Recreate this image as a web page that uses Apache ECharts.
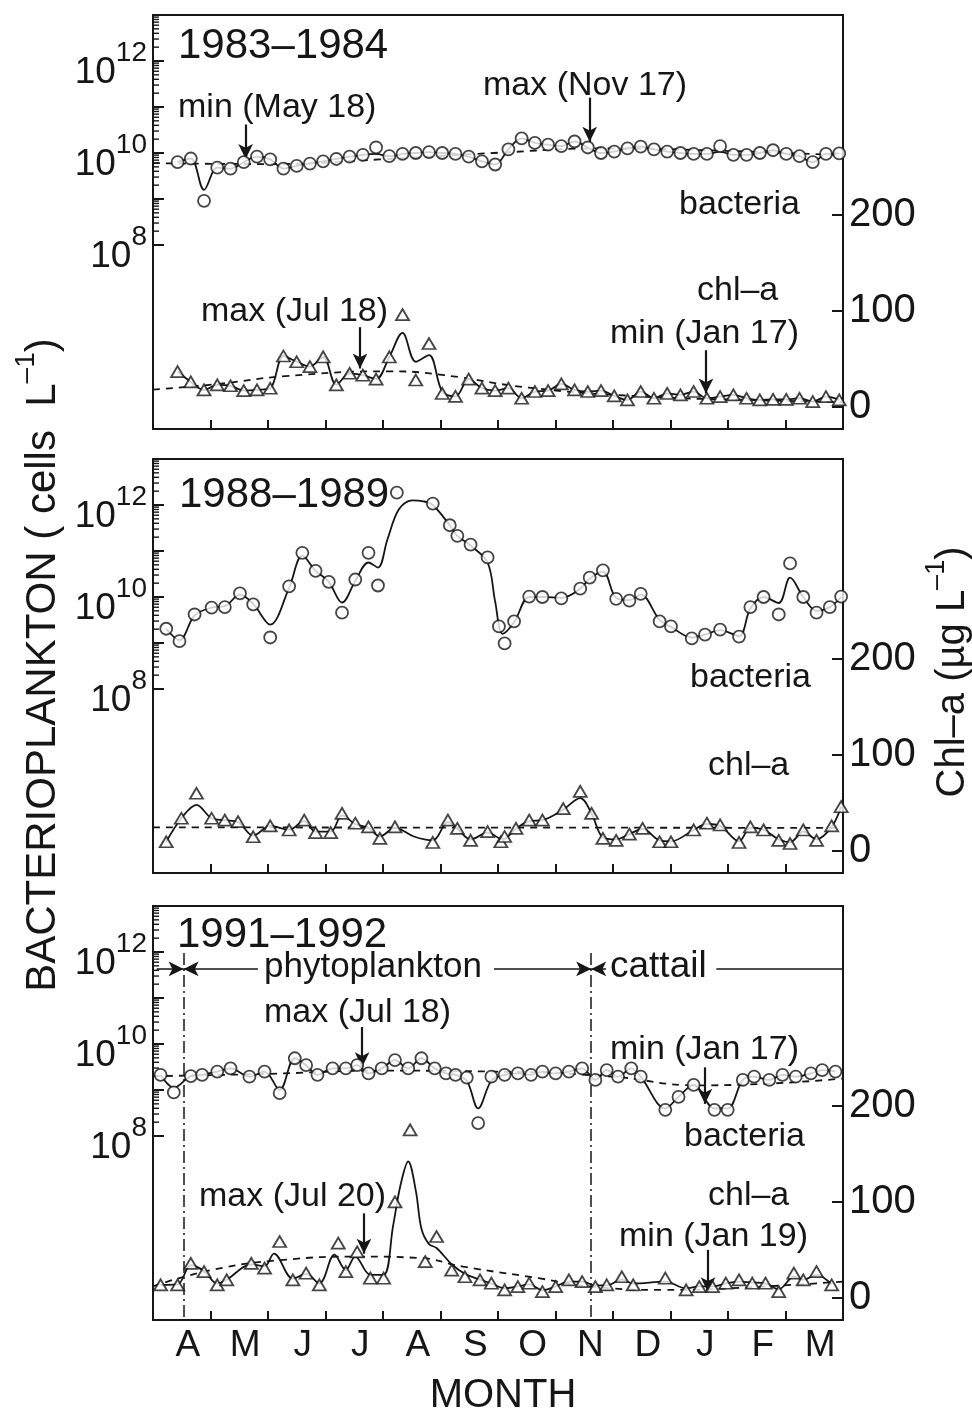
<!DOCTYPE html>
<html><head><meta charset="utf-8">
<script src="https://cdn.jsdelivr.net/npm/echarts/dist/echarts.min.js"></script>
<style>html,body{margin:0;padding:0;background:#fff}#c{width:972px;height:1416px}</style>
</head><body><div id="c"></div>
<script>
// ---------------- data ----------------
const months = ['A','M','J','J','A','S','O','N','D','J','F','M'];
const logLabelExps = [8, 10, 12];
const logTickDecades = [8, 9, 10, 11, 12];
const chlTicks = [0, 100, 200];

// 1983-1984 (day 0 = Apr 1); bacteria as log10(cells/L), chl-a in ug/L
const days83 = [13,20,27,34,41,48,55,62,69,76,83,90,97,104,111,118,125,132,139,146,153,160,167,174,181,188,195,202,209,216,223,230,237,244,251,258,265,272,279,286,293,300,307,314,321,328,335,342,349,356,363];
const bac83 = [9.80,9.88,8.96,9.68,9.66,9.80,9.92,9.86,9.66,9.72,9.77,9.82,9.87,9.92,9.96,10.12,9.93,9.98,10.0,10.02,10.0,9.98,9.92,9.82,9.75,10.08,10.32,10.22,10.18,10.15,10.25,10.12,10.0,10.03,10.1,10.14,10.08,10.03,10.0,9.98,9.98,10.15,9.96,9.96,10.0,10.06,9.98,9.93,9.80,9.98,9.99];
const bac83Fit = [9.80,9.88,9.2,9.68,9.66,9.80,9.92,9.86,9.66,9.72,9.77,9.82,9.87,9.92,9.96,9.98,9.93,9.98,10.0,10.02,10.0,9.98,9.92,9.82,9.75,10.08,10.32,10.22,10.18,10.15,10.25,10.12,10.0,10.03,10.1,10.14,10.08,10.03,10.0,9.98,9.98,10.03,9.96,9.96,10.0,10.06,9.98,9.93,9.80,9.98,9.99];
const bac83TrDays = [0,60,120,180,240,300,365];
const bac83Tr = [9.78,9.76,9.86,10.0,10.1,10.05,9.95];
const chl83 = [36.8,26,17.7,23,22,17,17.7,19.4,53,47,42,52,23,35,33,29,52,96,28,66,14,11,29,19.5,17,19.5,9,16,17,24,17.7,16,17,11.5,7.3,16,9,14,12.5,16,9,10.7,12.5,9,7.3,7.9,7.9,9,5.5,10.7,7.3];
const chl83Fit = [36.8,26,17.7,23,22,17,17.7,19.4,53,47,42,52,23,35,33,29,52,77,47,54,16,11,29,19.5,17,19.5,9,16,17,24,17.7,16,17,11.5,7.3,16,9,14,12.5,16,9,10.7,12.5,9,7.3,7.9,7.9,9,5.5,10.7,7.3];
const chl83TrDays = [0,35,70,126,154,199,258,320,365];
const chl83Tr = [18,24,32,37,33,20,11,7,5];

// 1988-1989
const bac88Days = [7,14,22,31,38,46,53,62,72,79,86,93,100,107,114,119,129,148,157,161,168,177,183,186,191,199,206,216,226,231,238,245,252,258,268,274,285,292,300,310,316,323,331,337,344,351,358,364];
const bac88 = [9.31,9.04,9.62,9.77,9.78,10.08,9.84,9.12,10.23,10.96,10.57,10.33,9.66,10.38,10.96,10.25,12.27,12.03,11.56,11.33,11.14,10.86,9.36,8.99,9.47,10.01,10.0,9.97,10.18,10.42,10.58,9.96,9.92,10.07,9.47,9.36,9.1,9.18,9.29,9.14,9.78,10.0,9.62,10.73,10.0,9.66,9.78,10.01];
const bac88FitDays = [7,14,22,31,38,46,53,62,72,79,86,93,100,107,114,119,124,130,137,143,148,157,161,168,177,181,185,191,199,206,216,226,231,238,245,252,258,268,274,285,292,300,310,316,323,331,337,344,351,358,364];
const bac88Fit = [9.31,9.06,9.6,9.77,9.8,10.05,9.85,9.4,10.2,10.9,10.57,10.33,9.88,10.35,10.75,10.64,11.25,11.9,12.1,12.08,12.0,11.56,11.33,11.12,10.75,9.9,9.2,9.45,10.0,10.0,9.98,10.18,10.4,10.55,9.98,9.93,10.05,9.5,9.35,9.12,9.18,9.28,9.15,9.75,10.0,9.87,10.42,10.0,9.7,9.78,10.0];
const chl88Days = [7,15,23,31,38,45,53,62,72,80,86,94,100,107,114,120,128,148,156,161,168,177,184,186,192,199,206,217,226,232,238,245,252,259,268,274,286,293,300,310,316,323,331,337,344,351,359,364];
const chl88 = [9.5,34,60,34,32,30.5,14.7,26,21.8,32,19,19,39,28.8,25,13,25,8.8,32,23.5,11,20,9.5,15,23.5,32,32,44,62,39,13,11,17.5,23.5,9.5,9.5,21.8,28.8,27,8.8,25,21.8,11,7.7,21.8,11,26,46];
const chl88FitDays = [7,15,23,31,38,45,53,62,72,80,86,94,100,107,114,120,128,138,148,156,161,168,177,185,192,199,206,217,226,232,238,245,252,259,268,274,286,293,300,310,316,323,331,337,344,351,359,364];
const chl88Fit = [9.5,34,48,34,32,30,16,26,22,31,20,20,37,28,24,15,24,15,11,30,23,12,19,12,23,31,32,43,55,39,14,12,17.5,23,11,10,21.8,28,26,10,24,22,12,9,20,12,25,46];
const chl88TrDays = [0,365];
const chl88Tr = [24.5,24];

// 1991-1992
const bac91Days = [4,11,20,26,34,41,51,59,67,75,81,87,95,102,108,114,121,128,135,142,149,155,160,166,172,179,186,193,200,206,213,220,227,234,240,246,253,258,271,278,286,297,304,312,318,326,333,340,348,354,361];
const bac91 = [9.33,8.95,9.3,9.33,9.4,9.47,9.29,9.4,8.93,9.69,9.54,9.33,9.47,9.47,9.54,9.36,9.47,9.65,9.47,9.69,9.47,9.36,9.33,9.27,8.28,9.29,9.33,9.36,9.33,9.4,9.36,9.4,9.47,9.22,9.43,9.29,9.47,9.29,8.57,8.85,9.11,8.57,8.57,9.22,9.29,9.22,9.33,9.29,9.36,9.43,9.4];
const bac91Fit = [9.33,9.05,9.3,9.33,9.4,9.47,9.29,9.4,9.0,9.69,9.54,9.33,9.47,9.47,9.54,9.36,9.47,9.65,9.47,9.69,9.47,9.36,9.33,9.2,8.6,9.2,9.33,9.36,9.33,9.4,9.36,9.4,9.47,9.22,9.43,9.29,9.47,9.29,8.6,8.85,9.11,8.6,8.6,9.22,9.29,9.22,9.33,9.29,9.36,9.43,9.4];
const bac91TrDays = [0,60,120,180,240,290,365];
const bac91Tr = [9.3,9.35,9.42,9.4,9.3,9.1,9.25];
const chl91Days = [4,13,20,27,34,39,52,59,67,74,81,88,98,102,108,115,122,128,136,144,150,158,165,173,179,186,193,199,206,213,220,227,234,240,248,254,271,282,289,296,303,310,317,324,331,339,344,351,359];
const chl91 = [13.5,13.5,36,27.4,13.5,18.7,36,31,58.7,18.7,25.7,13.5,57,27.4,48,20.5,20.5,100,175,37.8,63.9,29,22,18.7,15.3,8.3,11.8,15.3,6.6,11.8,18.7,17,11.8,13.5,22,13.5,20.5,8.3,11.8,11.8,15.3,18.7,15.3,15.3,6.6,25.7,18.7,27.4,13.5];
const chl91FitDays = [4,13,20,27,34,39,52,59,64,74,81,88,96,102,107,115,122,127,131,135,139,142,146,150,158,165,173,179,186,193,199,206,213,220,227,234,240,248,254,271,282,289,296,303,310,317,324,331,339,344,351,359];
const chl91Fit = [13.5,14,34,28,15,19,35,33,46,20,25,15,45,29,43,24,24,75,118,142,112,72,56,52,35,25,19,15,10,12,14,8,12,17,17,13,13,19,15,17,10,12,12,15,17,16,15,9,22,19,24,14];
const chl91TrDays = [0,31,69,110,140,164,204,232,270,305,365];
const chl91Tr = [12,29,39.6,43,41.7,32.6,20.5,11.8,8.3,10,17];

// ---------------- layout / style ----------------
const FONT = '"Liberation Sans", Arial, Helvetica, sans-serif';
const INK = '#161616';
const L = 153, GW = 690, GH = 414;
const pow = v => Math.pow(10, v);
const pairs = (d, v, f) => d.map((x, k) => [x, f ? f(v[k]) : v[k]]);
// minor log ticks: 2..9 x 10^e
const minorLogTicks = [];
logTickDecades.forEach(e => { for (let k = 2; k <= 9; k++) minorLogTicks.push([0, k * Math.pow(10, e)]); });

const panels = [
  {top: 15, bD: days83, b: bac83, bfD: days83, bf: bac83Fit, btD: bac83TrDays, bt: bac83Tr,
   cD: days83, c: chl83, cfD: days83, cf: chl83Fit, ctD: chl83TrDays, ct: chl83Tr,
   arrows: [[49, 294, 258], [231, 322, 276], [109.5, 83, 40], [292.5, 59, 14]], extra: []},
  {top: 459, bD: bac88Days, b: bac88, bfD: bac88FitDays, bf: bac88Fit, btD: null, bt: null,
   cD: chl88Days, c: chl88, cfD: chl88FitDays, cf: chl88Fit, ctD: chl88TrDays, ct: chl88Tr,
   arrows: [], extra: []},
  {top: 906, bD: bac91Days, b: bac91, bfD: bac91Days, bf: bac91Fit, btD: bac91TrDays, bt: bac91Tr,
   cD: chl91Days, c: chl91, cfD: chl91FitDays, cf: chl91Fit, ctD: chl91TrDays, ct: chl91Tr,
   arrows: [[110.6, 282, 240], [292, 240, 202], [111.6, 88, 46], [293.6, 50, 6]],
   extra: [
     [{coord: [16.2, 359], symbol: 'none', lineStyle: {type: [12, 4, 2, 4], width: 1.5}}, {coord: [16.2, -23], symbol: 'none'}],
     [{coord: [231.8, 359], symbol: 'none', lineStyle: {type: [12, 4, 2, 4], width: 1.5}}, {coord: [231.8, -23], symbol: 'none'}],
     [{coord: [2, 342.5], symbol: 'none', lineStyle: {width: 1.5}}, {coord: [16.2, 342.5], symbol: 'arrow'}],
     [{coord: [16.2, 342.5], symbol: 'arrow', lineStyle: {width: 1.5}}, {coord: [55.5, 342.5], symbol: 'none'}],
     [{coord: [180.4, 342.5], symbol: 'none', lineStyle: {width: 1.5}}, {coord: [231.8, 342.5], symbol: 'arrow'}],
     [{coord: [231.8, 342.5], symbol: 'arrow', lineStyle: {width: 1.5}}, {coord: [239.6, 342.5], symbol: 'none'}],
     [{coord: [298, 342.5], symbol: 'none', lineStyle: {width: 1.5}}, {coord: [365, 342.5], symbol: 'none'}]
   ]}
];

const grids = [], xAxis = [], yAxis = [], series = [];
panels.forEach((p, i) => {
  const g = grids.length;
  grids.push({left: L, top: p.top, width: GW, height: GH, show: true, borderColor: INK, borderWidth: 2, backgroundColor: 'transparent'});
  grids.push({left: L, top: p.top, width: GW, height: 230});
  grids.push({left: L, top: p.top + 200, width: GW, height: 192});
  const xa = xAxis.length;
  xAxis.push({type: 'category', gridIndex: g, data: months, boundaryGap: true, position: 'bottom',
    axisLine: {show: false, onZero: false}, axisTick: {show: true, inside: true, length: 9, lineStyle: {color: INK, width: 2}},
    axisLabel: {show: i === 2, interval: 0, fontSize: 37, fontFamily: FONT, color: INK, margin: 7, padding: [0, 0, 0, 12]},
    splitLine: {show: false}});
  xAxis.push({type: 'value', gridIndex: g, min: 0, max: 365, show: false, axisLine: {onZero: false}});
  xAxis.push({type: 'value', gridIndex: g + 1, min: 0, max: 1, show: false, axisLine: {onZero: false}});
  xAxis.push({type: 'value', gridIndex: g + 2, min: 0, max: 1, show: false, axisLine: {onZero: false}});
  const ya = yAxis.length;
  yAxis.push({type: 'log', logBase: 10, gridIndex: g, min: 1e4, max: 1e13, show: false, axisLine: {onZero: false}});
  yAxis.push({type: 'value', gridIndex: g, min: -23, max: 408, show: false, axisLine: {onZero: false}});
  yAxis.push({type: 'log', logBase: 10, gridIndex: g + 1, min: 1e8, max: 1e13, splitNumber: 5, position: 'left',
    axisLine: {show: true, onZero: false, lineStyle: {color: INK, width: 2}},
    axisTick: {show: true, inside: true, length: 11, lineStyle: {color: INK, width: 2}},
    splitLine: {show: false},
    axisLabel: {margin: 6, padding: [8, 0, 0, 0],
      formatter: v => { const e = Math.round(Math.log10(v)); return logLabelExps.includes(e) ? '{b|10}{s|' + e + '}' : ''; },
      rich: {b: {fontSize: 37, fontFamily: FONT, color: INK, lineHeight: 52, verticalAlign: 'bottom'},
             s: {fontSize: 28, fontFamily: FONT, color: INK, lineHeight: 26, verticalAlign: 'top'}}}});
  yAxis.push({type: 'value', gridIndex: g + 2, min: 0, max: 200, interval: 100, position: 'right',
    axisLine: {show: true, onZero: false, lineStyle: {color: INK, width: 2}},
    axisTick: {show: true, inside: true, length: 11, lineStyle: {color: INK, width: 2}},
    splitLine: {show: false},
    axisLabel: {margin: 6, fontSize: 40, fontFamily: FONT, color: INK,
      formatter: v => chlTicks.includes(v) ? String(v) : ''}});

  // minor log ticks on left edge
  series.push({type: 'custom', xAxisIndex: xa + 1, yAxisIndex: ya, data: minorLogTicks, silent: true, animation: false, z: 4,
    renderItem: (params, api) => {
      const pt = api.coord([0, api.value(1)]);
      return {type: 'line', shape: {x1: pt[0], y1: pt[1], x2: pt[0] + 6, y2: pt[1]}, style: {stroke: INK, lineWidth: 1.4}};
    }});

  const lineBase = {type: 'line', xAxisIndex: xa + 1, showSymbol: false, silent: true, animation: false, z: 3};
  if (p.btD) series.push(Object.assign({}, lineBase, {yAxisIndex: ya, data: pairs(p.btD, p.bt, pow), smooth: 0.5,
    lineStyle: {color: INK, width: 1.8, type: [7, 6]}}));
  series.push(Object.assign({}, lineBase, {yAxisIndex: ya, data: pairs(p.bfD, p.bf, pow), smooth: 0.35,
    lineStyle: {color: INK, width: 1.8}}));
  series.push({type: 'scatter', xAxisIndex: xa + 1, yAxisIndex: ya, data: pairs(p.bD, p.b, pow), symbol: 'circle', symbolSize: 12,
    itemStyle: {color: '#fff', borderColor: INK, borderWidth: 1.8}, z: 6, silent: true, animation: false});
  series.push(Object.assign({}, lineBase, {yAxisIndex: ya + 1, data: pairs(p.ctD, p.ct), smooth: 0.5,
    lineStyle: {color: INK, width: 1.8, type: [7, 6]}}));
  const ml = p.arrows.map(a => [{coord: [a[0], a[1]], symbol: 'none'}, {coord: [a[0], a[2]], symbol: 'arrow'}]).concat(p.extra);
  series.push(Object.assign({}, lineBase, {yAxisIndex: ya + 1, data: pairs(p.cfD, p.cf), smooth: 0.35,
    lineStyle: {color: INK, width: 1.8},
    markLine: {silent: true, animation: false, symbolSize: [11, 15], label: {show: false},
      lineStyle: {color: INK, width: 2.2, type: 'solid'}, emphasis: {disabled: true}, data: ml}}));
  series.push({type: 'scatter', xAxisIndex: xa + 1, yAxisIndex: ya + 1, data: pairs(p.cD, p.c), symbol: 'triangle', symbolSize: [13, 11],
    itemStyle: {color: '#fff', borderColor: INK, borderWidth: 1.8}, z: 6, silent: true, animation: false});
});

const txt = (t, x, y, size, align) => ({type: 'text', x, y, silent: true, z: 100,
  style: {text: t, font: size + 'px ' + FONT, fontSize: size, fontFamily: FONT, fill: INK,
    align: align || 'left', textAlign: align || 'left', verticalAlign: 'middle', textVerticalAlign: 'middle'}});
const notes = [
  ['1983–1984', 178, 46, 42], ['min (May 18)', 178, 108, 34], ['max (Nov 17)', 483, 86, 34],
  ['bacteria', 679, 205, 34], ['chl–a', 697, 291, 34], ['max (Jul 18)', 201, 312, 34], ['min (Jan 17)', 610, 334, 34],
  ['1988–1989', 179, 495, 42], ['bacteria', 690, 678, 34], ['chl–a', 708, 766, 34],
  ['1991–1992', 177, 935, 42], ['phytoplankton', 264, 967, 35], ['cattail', 610, 967, 37],
  ['max (Jul 18)', 264, 1013, 34], ['min (Jan 17)', 610, 1050, 34], ['bacteria', 684, 1137, 34],
  ['max (Jul 20)', 199, 1197, 34], ['chl–a', 708, 1196, 34], ['min (Jan 19)', 619, 1237, 34]
];
const graphic = notes.map(n => txt(n[0], n[1], n[2], n[3], 'left'));
graphic.push(txt('MONTH', 503, 1396, 40, 'center'));
graphic.push({type: 'text', x: 38, y: 665, rotation: Math.PI / 2, silent: true,
  style: {text: '{a|BACTERIOPLANKTON ( cells  L}{s|–1}{a|)}', align: 'center', verticalAlign: 'middle', textAlign: 'center', textVerticalAlign: 'middle',
    rich: {a: {fontSize: 42, fontFamily: FONT, fill: INK, color: INK, lineHeight: 52, verticalAlign: 'bottom'},
           s: {fontSize: 28, fontFamily: FONT, fill: INK, color: INK, lineHeight: 24, verticalAlign: 'top'}}}});
graphic.push({type: 'text', x: 948, y: 672, rotation: Math.PI / 2, silent: true,
  style: {text: '{a|Chl–a (µg L}{s|–1}{a|)}', align: 'center', verticalAlign: 'middle', textAlign: 'center', textVerticalAlign: 'middle',
    rich: {a: {fontSize: 40, fontFamily: FONT, fill: INK, color: INK, lineHeight: 50, verticalAlign: 'bottom'},
           s: {fontSize: 27, fontFamily: FONT, fill: INK, color: INK, lineHeight: 24, verticalAlign: 'top'}}}});

const chart = echarts.init(document.getElementById('c'), null, {renderer: 'canvas'});
chart.setOption({animation: false, backgroundColor: '#fff', grid: grids, xAxis, yAxis, series, graphic});
</script></body></html>
